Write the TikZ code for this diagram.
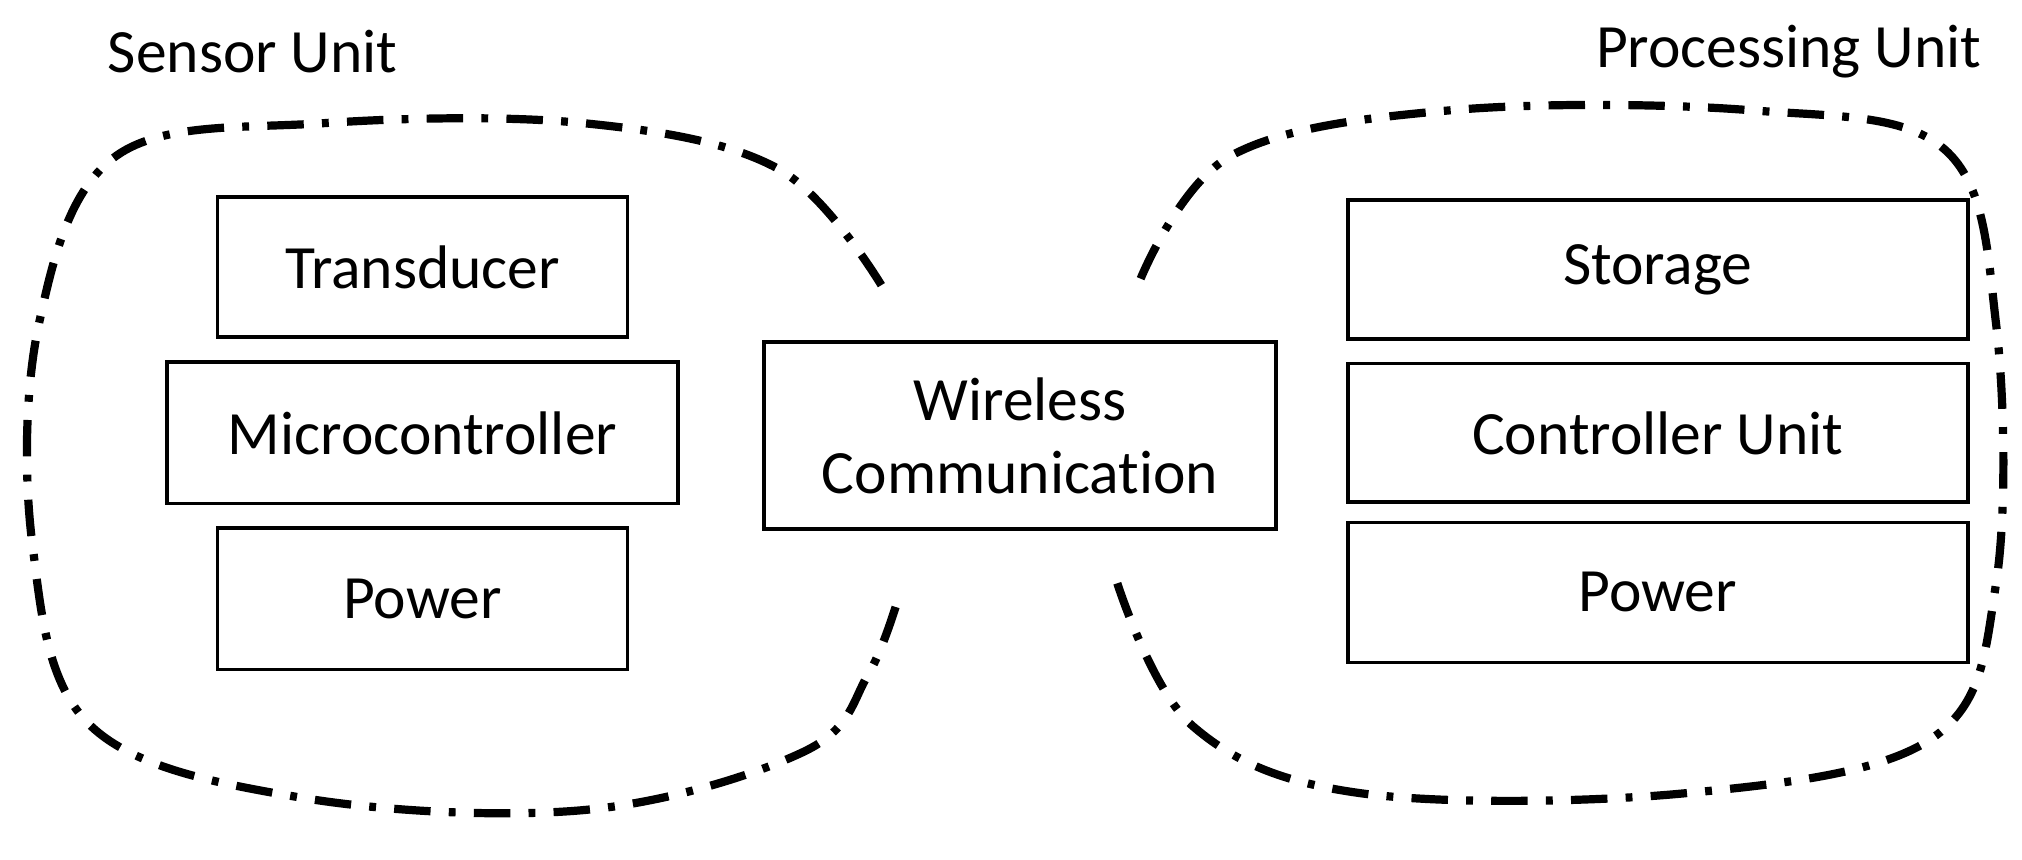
\documentclass[tikz,border=0pt]{standalone}
\usepackage{fontspec}
\setmainfont{Carlito}[Ligatures={NoCommon}]
\begin{document}
\begin{tikzpicture}[x=0.01cm,y=-0.01cm,
 box/.style={draw,line width=0.8pt,minimum width=#1,inner sep=0pt,align=center,font=\fontsize{13.5}{16}\selectfont},
 blob/.style={line width=1.8pt,dash pattern=on 8pt off 4pt on 1.5pt off 4pt},
 lab/.style={font=\fontsize{13.5}{16}\selectfont}]
\useasboundingbox (0,0) rectangle (1560,663);
\node[box=3.16cm,minimum height=1.08cm] (t) at (326,206) {Transducer};
\node[box=3.94cm,minimum height=1.09cm] (m) at (326,334) {Microcontroller};
\node[box=3.16cm,minimum height=1.09cm] (p1) at (326,462) {Power};
\node[box=3.95cm,minimum height=1.44cm] (w) at (787,336) {Wireless\\Communication};
\node[box=4.78cm,minimum height=1.07cm] (s) at (1279,208) {Storage};
\node[box=4.78cm,minimum height=1.07cm] (c) at (1279,334) {Controller Unit};
\node[box=4.78cm,minimum height=1.08cm] (p2) at (1279,457) {Power};
\node[lab] (su) at (195,40) {Sensor Unit};
\node[lab] (pu) at (1380,40) {Processing Unit};
\draw[blob] plot[smooth,tension=0.6] coordinates {(680,220) (600,130) (450,95) (250,95) (90,120) (30,250) (25,420) (70,560) (230,615) (450,625) (620,580) (670,520) (695,455)};
\draw[blob] plot[smooth,tension=0.6] coordinates {(880,215) (950,120) (1120,85) (1350,85) (1500,115) (1540,250) (1540,450) (1490,570) (1300,612) (1050,612) (920,560) (862,450)};
\end{tikzpicture}
\end{document}
